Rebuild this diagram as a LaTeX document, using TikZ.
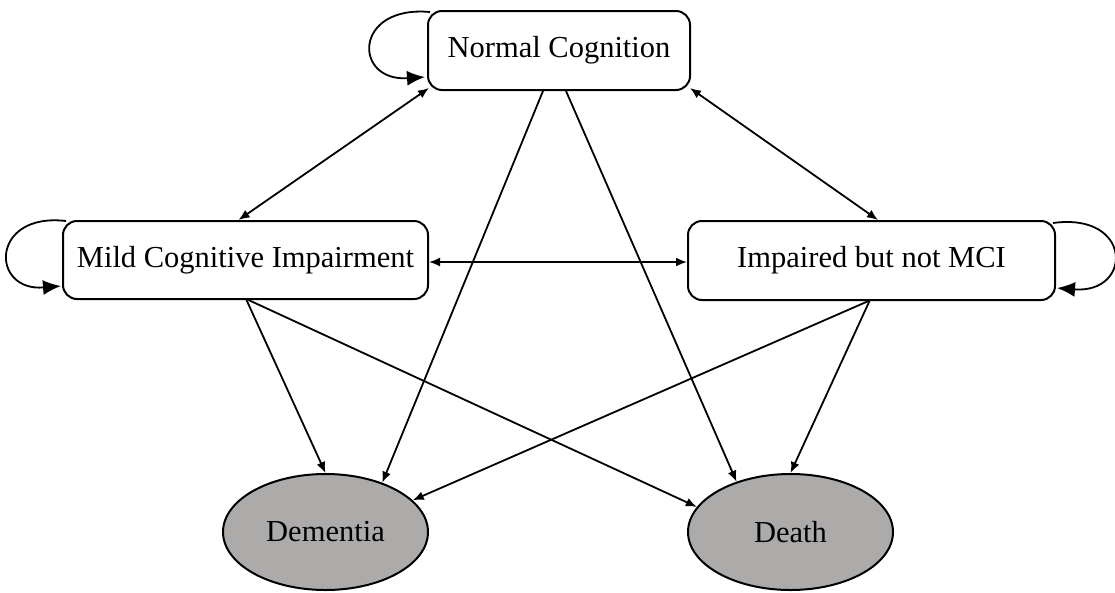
\documentclass[tikz,border=0pt]{standalone}
\usepackage{fontspec}
\setmainfont{Liberation Serif}
\usetikzlibrary{arrows.meta,shapes.geometric,calc}
\definecolor{absgray}{RGB}{173,170,170}
\begin{document}
\begin{tikzpicture}[x=1pt,y=-1pt,
  statebox/.style={draw, line width=2pt, rounded corners=14pt, inner sep=0pt, font=\fontsize{30.5}{36}\selectfont},
  absorb/.style={draw, ellipse, fill=absgray, line width=2pt, inner sep=0pt, minimum width=205pt, minimum height=116pt, font=\fontsize{30.5}{36}\selectfont},
  edge/.style={line width=1.8pt, -{Latex[length=11pt,width=9pt]}},
  biedge/.style={line width=1.8pt, {Latex[length=11pt,width=9pt]}-{Latex[length=11pt,width=9pt]}},
  loopedge/.style={line width=1.8pt, -{Latex[length=18pt,width=15pt]}}
]
\useasboundingbox (0,0) rectangle (1115,592);
\node[statebox, minimum width=262pt, minimum height=79pt] (nc) at (559,50.5) {Normal Cognition};
\node[statebox, minimum width=365pt, minimum height=78pt] (mci) at (245.5,260) {Mild Cognitive Impairment};
\node[statebox, minimum width=367pt, minimum height=79pt] (ibm) at (871.5,260.5) {Impaired but not MCI};
\node[absorb] (dem) at (325.5,532) {Dementia};
\node[absorb] (death) at (790.5,532) {Death};

% self loops
\draw[loopedge] ($(nc.north west)+(3,2)$) .. controls (353,5) and (353,82) .. ($(nc.south west)+(-2,-14)$);
\draw[loopedge] ($(mci.north west)+(4,1)$) .. controls (-10,212) and (-10,292) .. ($(mci.south west)+(-1,-14)$);
\draw[loopedge] ($(ibm.north east)+(-3,3)$) .. controls (1133,212) and (1133,294) .. ($(ibm.south east)+(1,-13)$);

% transitions among transient states
\draw[biedge] ($(nc.south west)+(2,-3)$) -- ($(mci.north)+(-7,0)$);
\draw[biedge] ($(nc.south east)+(-1,-3)$) -- ($(ibm.north)+(6.5,0)$);
\draw[biedge] ($(mci.east)+(0,2)$) -- ($(ibm.west)+(0,1.5)$);

% to absorbing states
\draw[edge] ($(nc.south)+(-16,0)$) -- (dem.41.5);
\draw[edge] ($(nc.south)+(7,0)$) -- (death.137);
\draw[edge] ($(mci.south)+(1,0)$) -- (dem.north);
\draw[edge] ($(mci.south)+(3,0)$) -- (death.165);
\draw[edge] ($(ibm.south)+(-3,0)$) -- (dem.20);
\draw[edge] ($(ibm.south)+(-2,0)$) -- (death.north);
\end{tikzpicture}
\end{document}
